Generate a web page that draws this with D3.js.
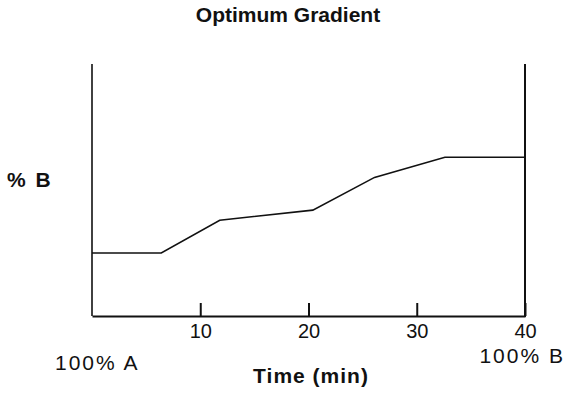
<!DOCTYPE html>
<html>
<head>
<meta charset="utf-8">
<script src="https://cdn.jsdelivr.net/npm/d3@7"></script>
<style>
  body { margin: 0; background: #fff; }
  text { font-family: "Liberation Sans", Arial, sans-serif; fill: #111; }
</style>
</head>
<body>
<svg></svg>
<script>
// gradient program: time (min) vs % B
let times = [0, 6.4, 11.8, 20.4, 26.1, 32.6, 40];
let percentB = [25, 25, 38, 42, 55, 63, 63];
let tickValues = [10, 20, 30, 40];

let width = 566;
let height = 393;

let svg = d3.select("svg")
            .attr("width", width)
            .attr("height", height);

let xScale = d3.scaleLinear()
               .domain([0, 40])
               .range([92, 525]);

let yScale = d3.scaleLinear()
               .domain([0, 100])
               .range([316, 64]);

// bottom axis with ticks pointing up
let xAxis = svg.append("g")
   .attr("transform", `translate(0,${yScale(0)})`)
   .call(d3.axisBottom(xScale)
           .tickValues(tickValues)
           .tickSizeInner(-13)
           .tickSizeOuter(0)
           .tickPadding(8));
xAxis.select(".domain").attr("stroke", "#111").attr("stroke-width", 2);
xAxis.selectAll(".tick line").attr("stroke", "#111").attr("stroke-width", 2);
xAxis.selectAll(".tick text")
     .style("font-family", "'Liberation Sans', Arial, sans-serif")
     .style("font-size", "20px")
     .attr("fill", "#111");

// left and right vertical lines
svg.append("line")
   .attr("x1", xScale(0)).attr("x2", xScale(0))
   .attr("y1", yScale(0)).attr("y2", yScale(100))
   .attr("stroke", "#111").attr("stroke-width", 1.6);

svg.append("line")
   .attr("x1", xScale(40)).attr("x2", xScale(40))
   .attr("y1", yScale(0) + 1).attr("y2", yScale(100))
   .attr("stroke", "#111").attr("stroke-width", 2);

// gradient line
let points = times.map((t, i) => [t, percentB[i]]);
svg.append("path")
   .datum(points)
   .attr("fill", "none")
   .attr("stroke", "#111")
   .attr("stroke-width", 1.6)
   .attr("d", d3.line().x(d => xScale(d[0])).y(d => yScale(d[1])));

// title
svg.append("text")
   .attr("x", 288)
   .attr("y", 22)
   .attr("text-anchor", "middle")
   .style("font-size", "21px")
   .style("font-weight", "bold")
   .text("Optimum Gradient");

// y label
svg.append("text")
   .attr("x", 7)
   .attr("y", 187)
   .style("font-size", "21px")
   .style("font-weight", "bold")
   .style("letter-spacing", "2px")
   .text("% B");

// x label
svg.append("text")
   .attr("x", 311)
   .attr("y", 383)
   .attr("text-anchor", "middle")
   .style("font-size", "21px")
   .style("font-weight", "bold")
   .style("letter-spacing", "1px")
   .text("Time (min)");

svg.append("text")
   .attr("x", 55)
   .attr("y", 370)
   .style("font-size", "21px")
   .style("letter-spacing", "2px")
   .text("100% A");

svg.append("text")
   .attr("x", 565)
   .attr("y", 363)
   .attr("text-anchor", "end")
   .style("font-size", "21px")
   .style("letter-spacing", "2px")
   .text("100% B");
</script>
</body>
</html>
